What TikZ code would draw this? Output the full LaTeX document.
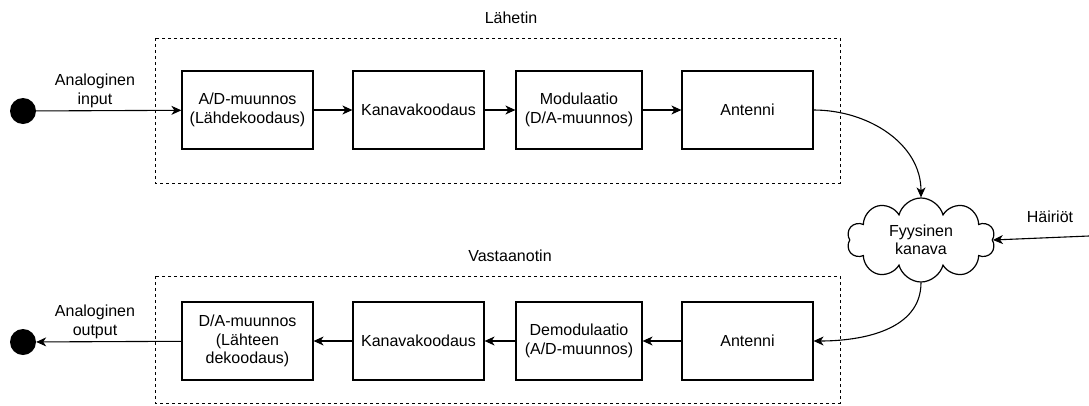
\documentclass[tikz,border=0pt]{standalone}
\usepackage{fontspec}
\setmainfont{Liberation Sans}
\usepackage{tikz}
\usetikzlibrary{arrows.meta,shapes.symbols}
\tikzset{blokki/.style = {draw, line width=1.2pt, minimum width=131pt,
  minimum height=78pt, align=center, inner sep=2pt}}
\tikzset{kehys/.style = {draw, line width=0.9pt, dash pattern=on 3pt off 3pt}}
\tikzset{nuoli/.style = {-{Stealth[length=10pt,width=9pt,inset=3pt]}, line width=1.1pt}}
\tikzset{piste/.style = {circle, fill, inner sep=0pt, minimum size=26pt}}

\begin{document}
\begin{tikzpicture}[x=1pt,y=-1pt,every node/.style={font=\fontsize{16}{18.5}\selectfont}]
  \useasboundingbox (0,0) rectangle (1089,405);
  % lahetin
  \draw[kehys] (155,38) rectangle (840,183);
  \node (lah) at (511,18) {Lähetin};
  \node[blokki] (ad) at (247.5,110) {A/D-muunnos\\(Lähdekoodaus)};
  \node[blokki] (kk1) at (418.5,110) {Kanavakoodaus};
  \node[blokki,minimum width=126pt] (mod) at (579,110) {Modulaatio\\(D/A-muunnos)};
  \node[blokki] (ant1) at (747.5,110) {Antenni};
  \node[piste] (in) at (23,111) {};
  \node[align=center] (inlbl) at (95,91) {Analoginen\\input};
  \draw[nuoli] (in) -- (ad);
  \draw[nuoli] (ad) -- (kk1);
  \draw[nuoli] (kk1) -- (mod);
  \draw[nuoli] (mod) -- (ant1);
  % kanava
  \node[cloud, draw, line width=1.2pt, cloud puffs=10, aspect=1.75,
    minimum width=148pt, minimum height=84pt, align=center,
    inner sep=0pt] (kan) at (921,240) {Fyysinen\\kanava};
  \coordinate (hr) at (1089,236);
  \node (hlbl) at (1050,217) {Häiriöt};
  \draw[nuoli] (ant1.east) to[out=0,in=90] (kan.north);
  \draw[nuoli] (hr) -- (kan.east);
  % vastaanotin
  \draw[kehys] (155,276) rectangle (840,403);
  \node (vas) at (510,256) {Vastaanotin};
  \node[blokki] (ant2) at (747.5,341) {Antenni};
  \node[blokki,minimum width=126pt] (dem) at (579,341) {Demodulaatio\\(A/D-muunnos)};
  \node[blokki] (kk2) at (418.5,341) {Kanavakoodaus};
  \node[blokki] (da) at (247.5,341) {D/A-muunnos\\(Lähteen\\dekoodaus)};
  \node[piste] (out) at (23,342) {};
  \node[align=center] (outlbl) at (95,322) {Analoginen\\output};
  \draw[nuoli] (kan.south) to[out=-90,in=0] (ant2.east);
  \draw[nuoli] (ant2) -- (dem);
  \draw[nuoli] (dem) -- (kk2);
  \draw[nuoli] (kk2) -- (da);
  \draw[nuoli] (da) -- (out);
\end{tikzpicture}
\end{document}
